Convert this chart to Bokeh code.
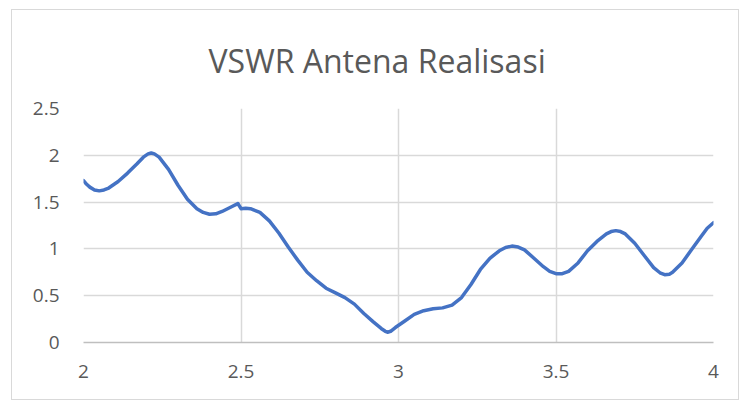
from bokeh.plotting import figure
from bokeh.models import ColumnDataSource, FixedTicker, Range1d
from bokeh.embed import file_html
from bokeh.resources import INLINE

title_text = "VSWR Antena Realisasi"
x_ticks = [2, 2.5, 3, 3.5, 4]
y_ticks = [0, 0.5, 1, 1.5, 2, 2.5]

freq = [2.000, 2.01, 2.02, 2.035, 2.05, 2.065, 2.08, 2.11, 2.14, 2.17, 2.19, 2.205, 2.215, 2.225,
        2.24, 2.27, 2.30, 2.33, 2.36, 2.38, 2.40, 2.42, 2.44, 2.47, 2.485, 2.49, 2.50, 2.515, 2.53,
        2.56, 2.59, 2.62, 2.65, 2.68, 2.71, 2.74, 2.77, 2.80, 2.83, 2.86, 2.89, 2.92,
        2.945, 2.958, 2.965, 2.975, 2.99, 3.02, 3.05, 3.08, 3.11, 3.14, 3.17, 3.20,
        3.23, 3.26, 3.29, 3.32, 3.34, 3.36, 3.38, 3.40, 3.43, 3.46, 3.48, 3.50, 3.52,
        3.54, 3.57, 3.60, 3.63, 3.66, 3.675, 3.69, 3.705, 3.72, 3.75, 3.78, 3.81,
        3.83, 3.845, 3.86, 3.87, 3.90, 3.93, 3.96, 3.98, 4.00]
vswr = [1.73, 1.69, 1.66, 1.63, 1.62, 1.63, 1.65, 1.72, 1.81, 1.91, 1.98, 2.015, 2.025, 2.015,
        1.98, 1.85, 1.68, 1.53, 1.43, 1.39, 1.37, 1.375, 1.40, 1.45, 1.475, 1.485, 1.43, 1.435, 1.43,
        1.39, 1.30, 1.17, 1.02, 0.88, 0.75, 0.66, 0.58, 0.53, 0.48, 0.41, 0.31, 0.22,
        0.15, 0.12, 0.11, 0.12, 0.16, 0.23, 0.30, 0.34, 0.36, 0.37, 0.40, 0.48,
        0.62, 0.78, 0.90, 0.98, 1.015, 1.03, 1.02, 0.99, 0.90, 0.81, 0.76, 0.735, 0.735,
        0.76, 0.85, 0.98, 1.08, 1.16, 1.185, 1.195, 1.185, 1.16, 1.06, 0.93, 0.80,
        0.745, 0.725, 0.73, 0.75, 0.85, 0.99, 1.13, 1.22, 1.28]

src = ColumnDataSource(dict(x=freq, y=vswr))

p = figure(width=728, height=391, output_backend="svg", toolbar_location=None,
           x_range=Range1d(2, 4), y_range=Range1d(0, 2.5),
           min_border_left=71, min_border_right=27, min_border_top=97, min_border_bottom=59)
p.margin = (9, 0, 0, 11)
p.styles = {"border": "1px solid #d9d9d9", "box-sizing": "border-box"}

p.title.text = title_text
p.title.text_font = "Open Sans"
p.title.text_font_size = "32px"
p.title.text_font_style = "normal"
p.title.text_color = "#595959"
p.title.align = "left"
p.title.offset = 125
p.title.text_line_height = 0.9
p.title.standoff = 53

p.outline_line_color = None
p.background_fill_color = "white"
p.border_fill_color = "white"

for ax in (p.xaxis[0], p.yaxis[0]):
    ax.major_label_text_font = "Open Sans"
    ax.major_label_text_font_size = "19px"
    ax.major_label_text_color = "#595959"
    ax.major_tick_line_color = None
    ax.minor_tick_line_color = None

p.xaxis.ticker = FixedTicker(ticks=x_ticks)
p.yaxis.ticker = FixedTicker(ticks=y_ticks)
p.xaxis.axis_line_color = "#bfbfbf"
p.xaxis.axis_line_width = 1.5
p.yaxis.axis_line_color = None
p.xaxis.major_label_standoff = 16
p.yaxis.major_label_standoff = 18

p.xgrid.grid_line_color = "#d9d9d9"
p.ygrid.grid_line_color = "#d9d9d9"
p.xgrid.grid_line_width = 1.5
p.ygrid.grid_line_width = 1.5

p.line("x", "y", source=src, line_color="#4472c4", line_width=3.5,
       line_join="round", line_cap="round")

open("out.html", "w").write(file_html(p, INLINE))
